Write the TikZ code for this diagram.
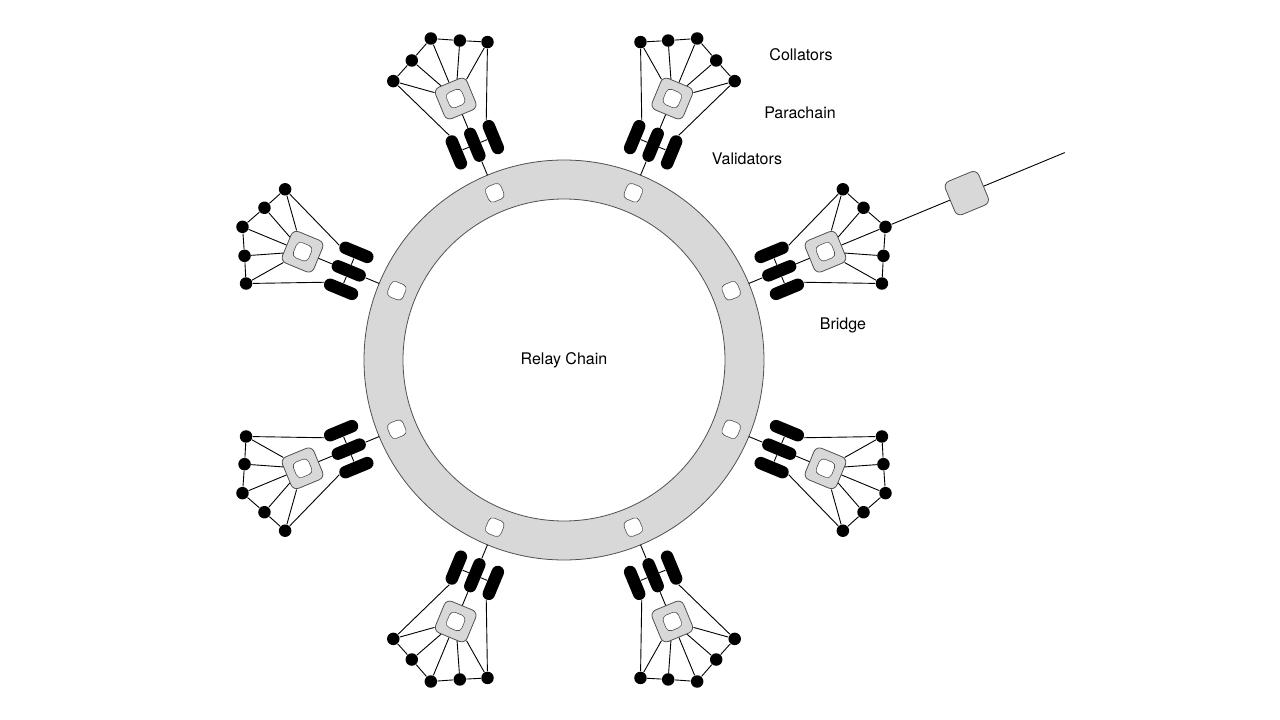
\documentclass[tikz,border=0pt]{standalone}
\usepackage{fontspec}
\setmainfont{TeX Gyre Heros}
\usepackage{tikz}
\usetikzlibrary{positioning}
\definecolor{chaingray}{RGB}{216,216,216}
\definecolor{edgegray}{RGB}{80,80,80}

\begin{document}
\begin{tikzpicture}[x=1pt,y=1pt,line width=0.9pt]
\tikzset{dot/.style={circle,fill=black,inner sep=0pt,minimum size=12.5pt}}
\tikzset{pill/.style={rectangle,fill=black,rounded corners=6.2pt,inner sep=0pt,
minimum width=12.5pt,minimum height=36pt,transform shape}}
\tikzset{para/.style={rectangle,draw=edgegray,line width=0.8pt,fill=chaingray,
rounded corners=6pt,inner sep=0pt,minimum size=34pt,transform shape}}
\tikzset{core/.style={rectangle,draw=edgegray,line width=0.6pt,fill=white,
rounded corners=4.5pt,inner sep=0pt,minimum size=16.5pt,transform shape}}
\tikzset{lbl/.style={font=\fontsize{16}{19}\selectfont}}
\useasboundingbox (-564,-360) rectangle (716,360);
\node[circle,draw=edgegray,line width=0.8pt,fill=chaingray,inner sep=0pt,
minimum size=400pt] (relay) at (0,0) {};
\node[circle,draw=edgegray,line width=0.8pt,fill=white,inner sep=0pt,
minimum size=322pt,lbl] (chain) at (0,0) {Relay Chain};
\foreach \a [count=\i] in {22.5,67.5,112.5,157.5,202.5,247.5,292.5,337.5} {
\begin{scope}[rotate=\a-90]
\node[core] (s\i) at (0,181) {};
\coordinate (e\i) at (0,200);
\node[pill] (v\i-1) at (-20,233) {};
\node[pill] (v\i-2) at (0,233) {};
\node[pill] (v\i-3) at (20,233) {};
\node[para] (p\i) at (0,283) {};
\node[core] (k\i) at (0,283) {};
\node[dot] (c\i-1) at (-51,323) {};
\node[dot] (c\i-2) at (-26,335) {};
\node[dot] (c\i-3) at (0,348) {};
\node[dot] (c\i-4) at (26,335) {};
\node[dot] (c\i-5) at (51,323) {};
\end{scope}
\draw (e\i) -- (v\i-2) -- (p\i);
\draw (v\i-1) -- (v\i-2) -- (v\i-3);
\draw (v\i-1.north) -- (c\i-1) -- (c\i-2) -- (c\i-3) -- (c\i-4) -- (c\i-5) -- (v\i-3.north);
\foreach \j in {1,...,5} \draw (c\i-\j) -- (p\i);
}
\node[para,minimum size=36pt,rotate=22.5] (bridge) at (22.5:436pt) {};
\coordinate (far) at (22.5:542pt);
\draw (c1-3) -- (bridge) -- (far);
\node[lbl] (collators) at (237,305) {Collators};
\node[lbl] (parachain) at (236,247) {Parachain};
\node[lbl] (validators) at (183,201) {Validators};
\node[lbl] (bridgelabel) at (279,35) {Bridge};
\end{tikzpicture}
\end{document}
